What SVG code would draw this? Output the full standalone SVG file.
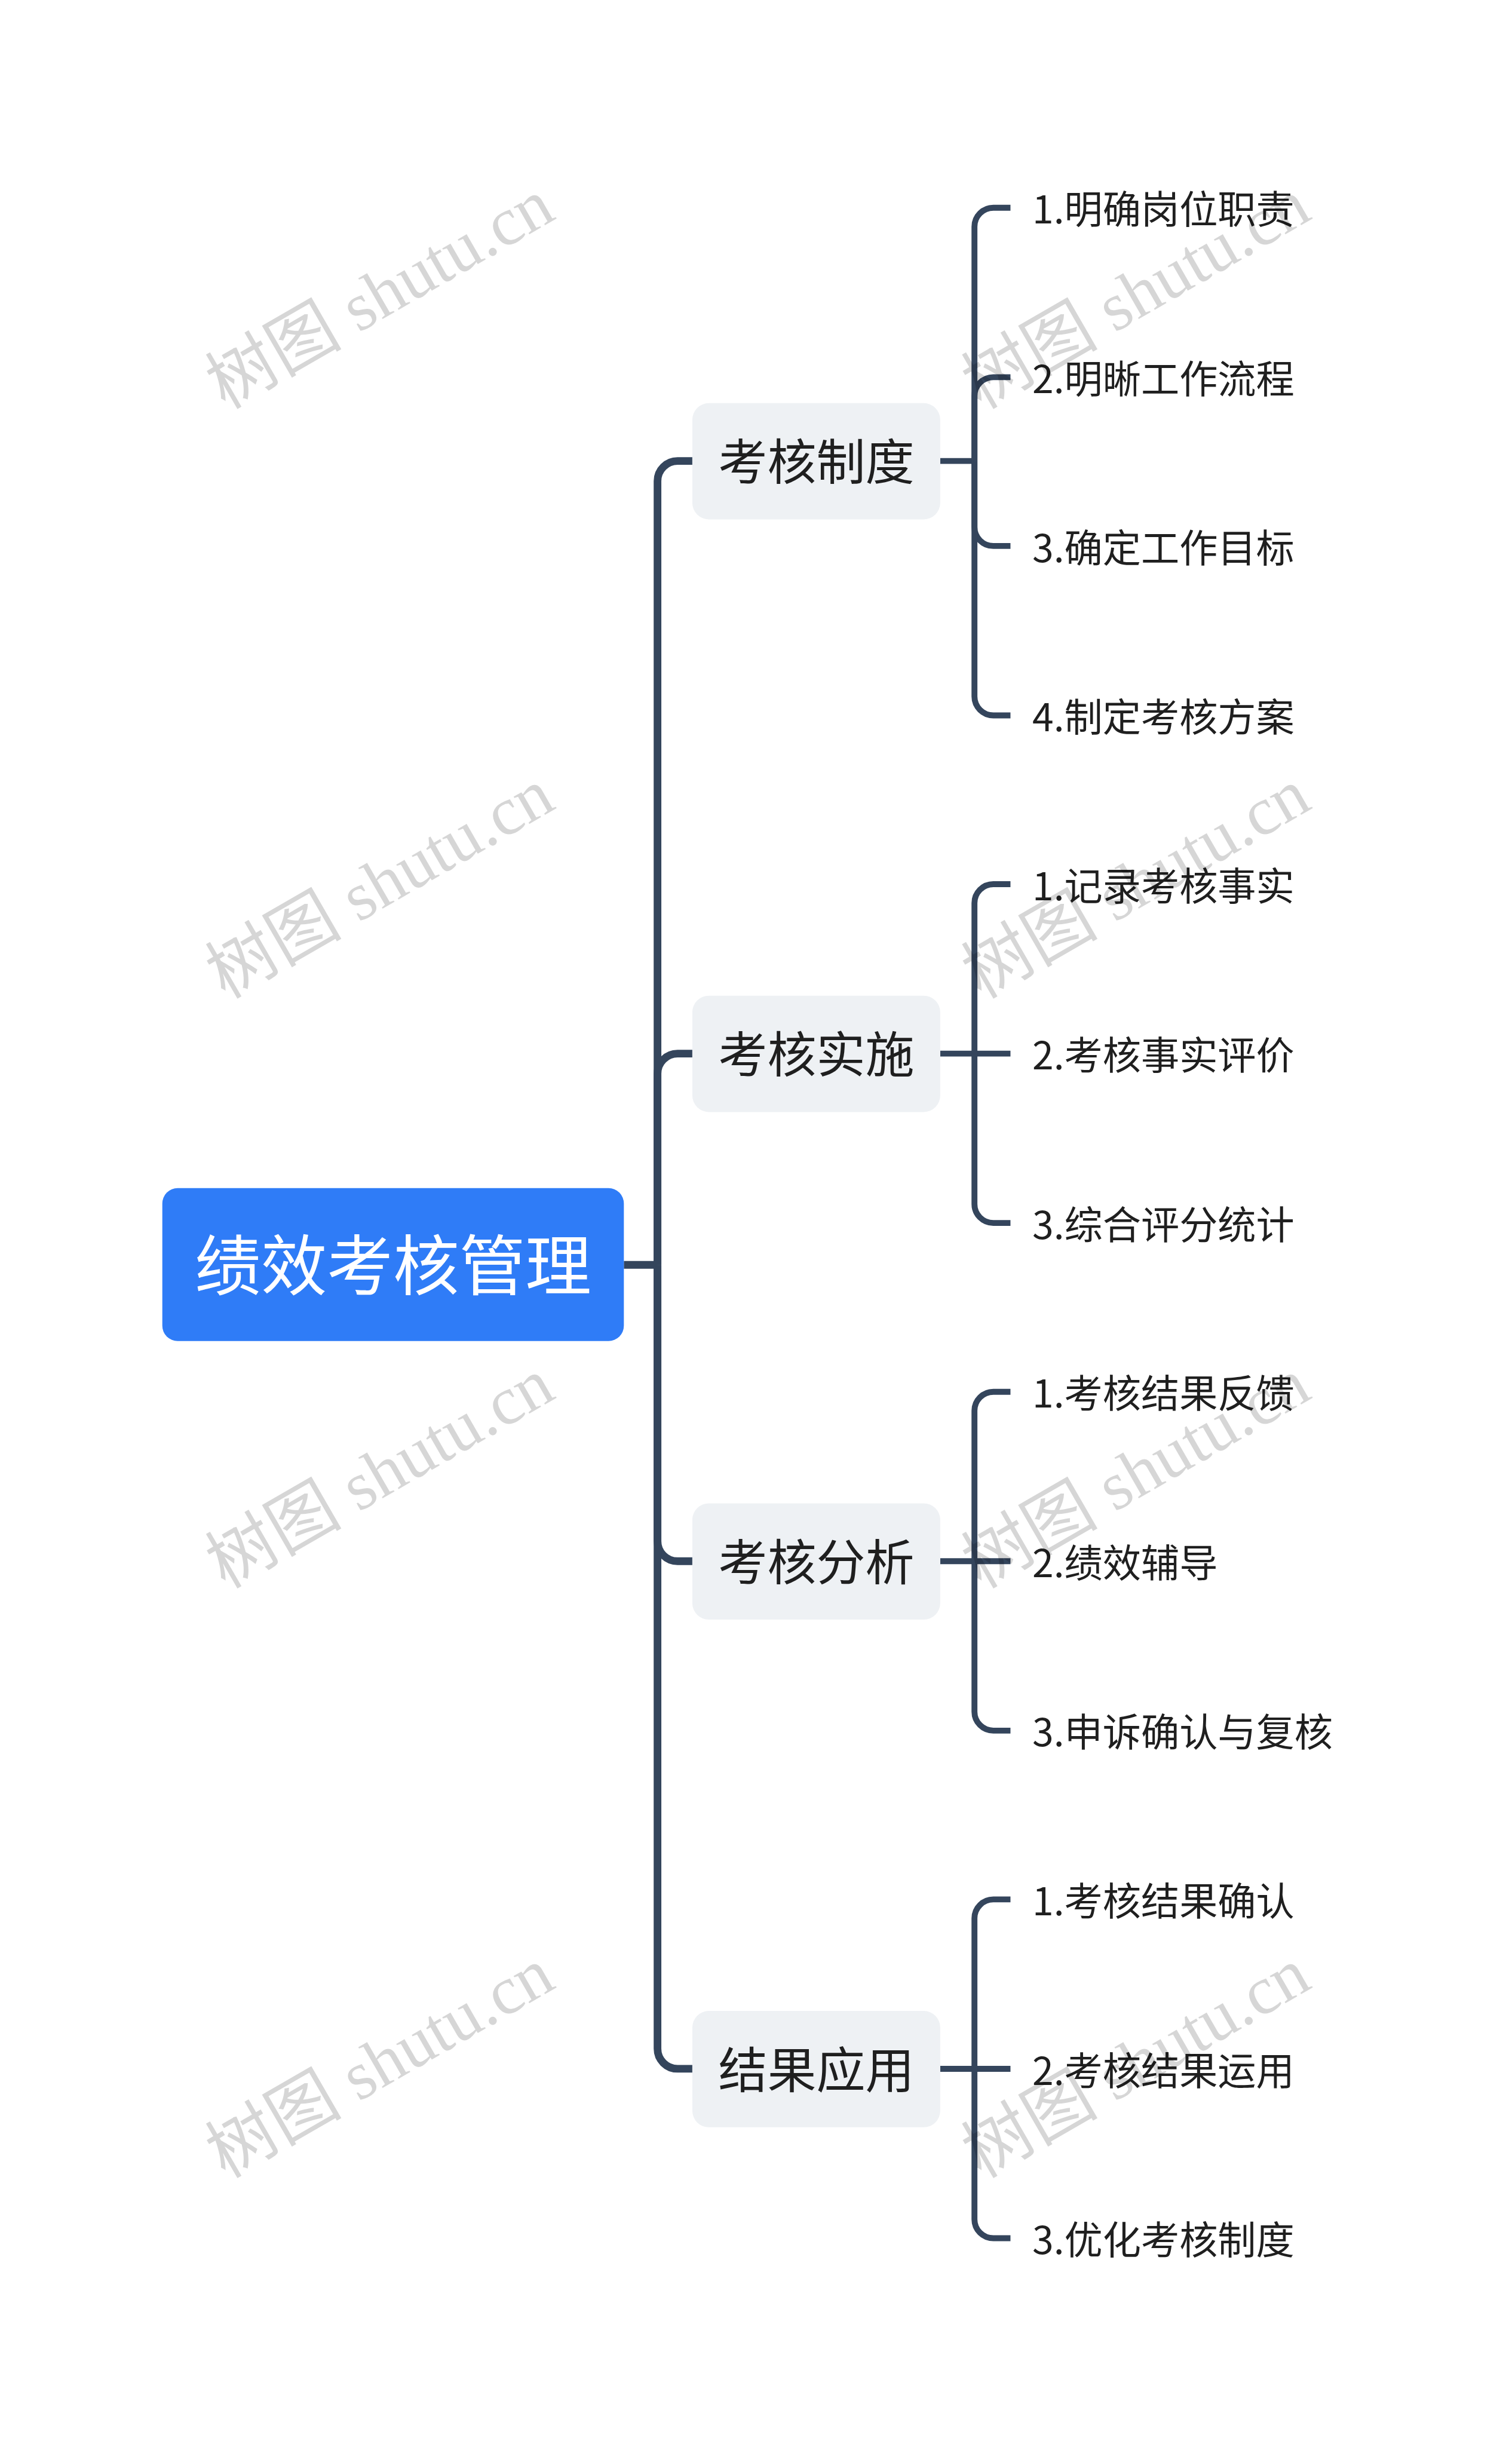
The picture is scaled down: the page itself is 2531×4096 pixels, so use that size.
<svg xmlns="http://www.w3.org/2000/svg" width="2531" height="4096" viewBox="0 0 2531 4096">
<defs>
<style>
.root-box{fill:#2f7cf7}
.root-text{fill:#ffffff;font-family:"Noto Sans CJK SC","Noto Sans",sans-serif;font-size:112px;text-anchor:middle}
.l1-box{fill:#eef1f4}
.l1-text{fill:#1f1f1f;font-family:"Noto Sans CJK SC","Noto Sans",sans-serif;font-size:83px;text-anchor:middle}
.leaf-text{fill:#1f1f1f;font-family:"Noto Sans CJK SC","Noto Sans",sans-serif;font-size:65px}
.main{fill:none;stroke:#34455c;stroke-width:13}
.sub{fill:none;stroke:#34455c;stroke-width:10}
.wm{fill:#000000;fill-opacity:0.16;font-family:"Liberation Serif","Noto Sans CJK SC",serif;font-size:116px;text-anchor:middle}
</style>
</defs>
<rect width="2531" height="4096" fill="#ffffff"/>
<g transform="scale(0.988)">
<g id="connectors">
<path class="main" d="M1057,2143 H1114"/>
<path class="main" d="M1114,2143 V815 A34,34 0 0 1 1148,781 H1173"/>
<path class="main" d="M1114,2143 V1819 A34,34 0 0 1 1148,1785 H1173"/>
<path class="main" d="M1114,2143 V2611 A34,34 0 0 0 1148,2645 H1173"/>
<path class="main" d="M1114,2143 V3471 A34,34 0 0 0 1148,3505 H1173"/>
<path class="sub" d="M1593,781 H1651"/>
<path class="sub" d="M1651,781 V384 A32,32 0 0 1 1683,352 H1712"/>
<path class="sub" d="M1651,781 V671 A32,32 0 0 1 1683,639 H1712"/>
<path class="sub" d="M1651,781 V893 A32,32 0 0 0 1683,925 H1712"/>
<path class="sub" d="M1651,781 V1180 A32,32 0 0 0 1683,1212 H1712"/>
<path class="sub" d="M1593,1785 H1712"/>
<path class="sub" d="M1651,1785 V1530 A32,32 0 0 1 1683,1498 H1712"/>
<path class="sub" d="M1651,1785 V2040 A32,32 0 0 0 1683,2072 H1712"/>
<path class="sub" d="M1593,2645 H1712"/>
<path class="sub" d="M1651,2645 V2390 A32,32 0 0 1 1683,2358 H1712"/>
<path class="sub" d="M1651,2645 V2900 A32,32 0 0 0 1683,2932 H1712"/>
<path class="sub" d="M1593,3505 H1712"/>
<path class="sub" d="M1651,3505 V3250 A32,32 0 0 1 1683,3218 H1712"/>
<path class="sub" d="M1651,3505 V3760 A32,32 0 0 0 1683,3792 H1712"/>
</g>
<g id="root">
<rect class="root-box" x="275" y="2013" width="782" height="259" rx="26"/>
<text class="root-text" x="666" y="2185">绩效考核管理</text>
</g>
<g id="n1">
<rect class="l1-box" x="1173" y="683" width="420" height="197" rx="28"/>
<text class="l1-text" x="1383" y="813">考核制度</text>
</g>
<g id="n2">
<rect class="l1-box" x="1173" y="1687" width="420" height="197" rx="28"/>
<text class="l1-text" x="1383" y="1817">考核实施</text>
</g>
<g id="n3">
<rect class="l1-box" x="1173" y="2547" width="420" height="197" rx="28"/>
<text class="l1-text" x="1383" y="2677">考核分析</text>
</g>
<g id="n4">
<rect class="l1-box" x="1173" y="3407" width="420" height="197" rx="28"/>
<text class="l1-text" x="1383" y="3537">结果应用</text>
</g>
<g id="n1-1"><text class="leaf-text" x="1749" y="379">1.明确岗位职责</text></g>
<g id="n1-2"><text class="leaf-text" x="1749" y="666">2.明晰工作流程</text></g>
<g id="n1-3"><text class="leaf-text" x="1749" y="952">3.确定工作目标</text></g>
<g id="n1-4"><text class="leaf-text" x="1749" y="1239">4.制定考核方案</text></g>
<g id="n2-1"><text class="leaf-text" x="1749" y="1525">1.记录考核事实</text></g>
<g id="n2-2"><text class="leaf-text" x="1749" y="1812">2.考核事实评价</text></g>
<g id="n2-3"><text class="leaf-text" x="1749" y="2099">3.综合评分统计</text></g>
<g id="n3-1"><text class="leaf-text" x="1749" y="2385">1.考核结果反馈</text></g>
<g id="n3-2"><text class="leaf-text" x="1749" y="2672">2.绩效辅导</text></g>
<g id="n3-3"><text class="leaf-text" x="1749" y="2959">3.申诉确认与复核</text></g>
<g id="n4-1"><text class="leaf-text" x="1749" y="3245">1.考核结果确认</text></g>
<g id="n4-2"><text class="leaf-text" x="1749" y="3532">2.考核结果运用</text></g>
<g id="n4-3"><text class="leaf-text" x="1749" y="3819">3.优化考核制度</text></g>
<g id="watermarks">
<text class="wm" transform="translate(663,532) rotate(-30)">树图 shutu.cn</text>
<text class="wm" transform="translate(1944,532) rotate(-30)">树图 shutu.cn</text>
<text class="wm" transform="translate(663,1531) rotate(-30)">树图 shutu.cn</text>
<text class="wm" transform="translate(1944,1531) rotate(-30)">树图 shutu.cn</text>
<text class="wm" transform="translate(663,2530) rotate(-30)">树图 shutu.cn</text>
<text class="wm" transform="translate(1944,2530) rotate(-30)">树图 shutu.cn</text>
<text class="wm" transform="translate(663,3529) rotate(-30)">树图 shutu.cn</text>
<text class="wm" transform="translate(1944,3529) rotate(-30)">树图 shutu.cn</text>
</g>
</g>
</svg>
